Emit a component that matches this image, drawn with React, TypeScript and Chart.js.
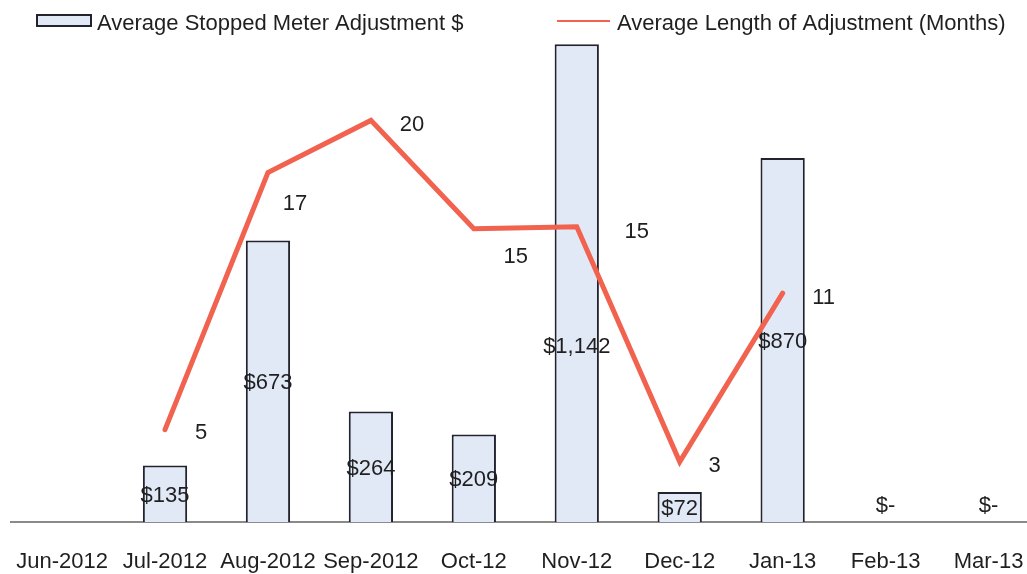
import React, { useEffect, useRef } from 'react';
import { Chart, registerables } from 'chart.js';

Chart.register(...registerables);

const categories = ['Jun-2012', 'Jul-2012', 'Aug-2012', 'Sep-2012', 'Oct-12', 'Nov-12', 'Dec-12', 'Jan-13', 'Feb-13', 'Mar-13'];
const stoppedMeterAdjustment = [null, 135, 673, 264, 209, 1142, 72, 870, 0, 0];
const adjustmentLengthMonths = [null, 4.6, 17.4, 20.0, 14.6, 14.7, 3.0, 11.4, null, null];
const barAxisMax = 1200;
const lineAxisMax = 25;
const legendLabels = ['Average Stopped Meter Adjustment $', 'Average Length of Adjustment (Months)'];

const FONT = '"Liberation Sans", Arial, sans-serif';
const FS = 22;
const BAR_FILL = '#E1E9F7';
const BAR_BORDER = '#22232E';
const LINE_COLOR = '#F1624F';
const TEXT = '#1f1f1f';

const fmtMoney = (v: number) => (v === 0 ? '$-' : '$' + v.toLocaleString('en-US'));

const labelPlugin = {
  id: 'customLabels',
  afterDatasetsDraw(chart: any) {
    const ctx = chart.ctx;
    ctx.save();
    ctx.font = `${FS}px ${FONT}`;
    ctx.fillStyle = TEXT;
    ctx.textAlign = 'center';
    ctx.textBaseline = 'alphabetic';
    const half = 0.358 * FS;
    // bar labels
    const barMeta = chart.getDatasetMeta(0);
    const barShift: Record<number, number> = { 5: 62 };
    barMeta.data.forEach((el: any, i: number) => {
      const v = stoppedMeterAdjustment[i];
      if (v === null || v === undefined) return;
      let cy: number;
      if (v === 0) cy = el.base - 18;
      else cy = (el.y + el.base) / 2 + (barShift[i] || 0);
      ctx.fillText(fmtMoney(v), el.x, cy + half);
    });
    // line labels
    const lineMeta = chart.getDatasetMeta(1);
    const offs: Record<number, [number, number]> = {
      1: [36, 1], 2: [27, 30], 3: [41, 3], 4: [42, 26], 5: [60, 3], 6: [35, 2], 7: [41, 3],
    };
    lineMeta.data.forEach((el: any, i: number) => {
      const v = adjustmentLengthMonths[i];
      if (v === null || v === undefined) return;
      const o = offs[i] || [38, 0];
      ctx.fillText(String(Math.round(v)), el.x + o[0], el.y + o[1] + half);
    });
    ctx.restore();
  },
  afterDraw(chart: any) {
    const ctx = chart.ctx;
    ctx.save();
    // legend item 1
    ctx.fillStyle = BAR_FILL;
    ctx.strokeStyle = BAR_BORDER;
    ctx.lineWidth = 2;
    ctx.fillRect(37, 15, 54, 11);
    ctx.strokeRect(37, 15, 54, 11);
    ctx.font = `${FS}px ${FONT}`;
    ctx.fillStyle = TEXT;
    ctx.textAlign = 'left';
    ctx.textBaseline = 'alphabetic';
    ctx.fillText(legendLabels[0], 97, 30);
    // legend item 2
    ctx.strokeStyle = LINE_COLOR;
    ctx.lineWidth = 2;
    ctx.beginPath();
    ctx.moveTo(557, 21);
    ctx.lineTo(610, 21);
    ctx.stroke();
    ctx.fillText(legendLabels[1], 617, 30);
    ctx.restore();
  },
};

export default function App() {
  const ref = useRef<HTMLCanvasElement | null>(null);
  useEffect(() => {
    if (!ref.current) return;
    const chart = new Chart(ref.current, {
      type: 'bar',
      data: {
        labels: categories,
        datasets: [
          {
            type: 'bar',
            label: legendLabels[0],
            data: stoppedMeterAdjustment as any,
            backgroundColor: BAR_FILL,
            borderColor: BAR_BORDER,
            borderWidth: 2,
            borderSkipped: 'bottom',
            barPercentage: 0.43,
            categoryPercentage: 1,
            yAxisID: 'y',
            order: 2,
          },
          {
            type: 'line',
            label: legendLabels[1],
            data: adjustmentLengthMonths as any,
            borderColor: LINE_COLOR,
            borderWidth: 5,
            borderCapStyle: 'round',
            borderJoinStyle: 'miter',
            pointRadius: 0,
            tension: 0,
            yAxisID: 'y1',
            order: 1,
          },
        ],
      },
      options: {
        responsive: false,
        animation: false,
        devicePixelRatio: 1,
        layout: { padding: { left: 10.6, right: 0, top: 20, bottom: 0 } },
        plugins: { legend: { display: false }, tooltip: { enabled: false } },
        scales: {
          x: {
            offset: true,
            grid: { display: true, drawOnChartArea: false, drawTicks: true, tickLength: 27, color: 'rgba(0,0,0,0)' },
            border: { display: true, color: '#8a8a8a', width: 2 },
            ticks: {
              color: TEXT,
              font: { family: FONT, size: FS },
              padding: 0,
              maxRotation: 0,
              autoSkip: false,
            },
            afterFit(scale: any) {
              scale.height = 52;
            },
          },
          y: { display: false, min: 0, max: barAxisMax },
          y1: { display: false, min: 0, max: lineAxisMax, position: 'right' },
        },
      },
      plugins: [labelPlugin],
    });
    return () => chart.destroy();
  }, []);
  return (
    <div style={{ position: 'fixed', left: 0, top: 0, width: 1027, height: 574, overflow: 'hidden', background: '#fff' }}>
      <canvas ref={ref} width={1040} height={574} style={{ width: 1040, height: 574, display: 'block' }} />
    </div>
  );
}
